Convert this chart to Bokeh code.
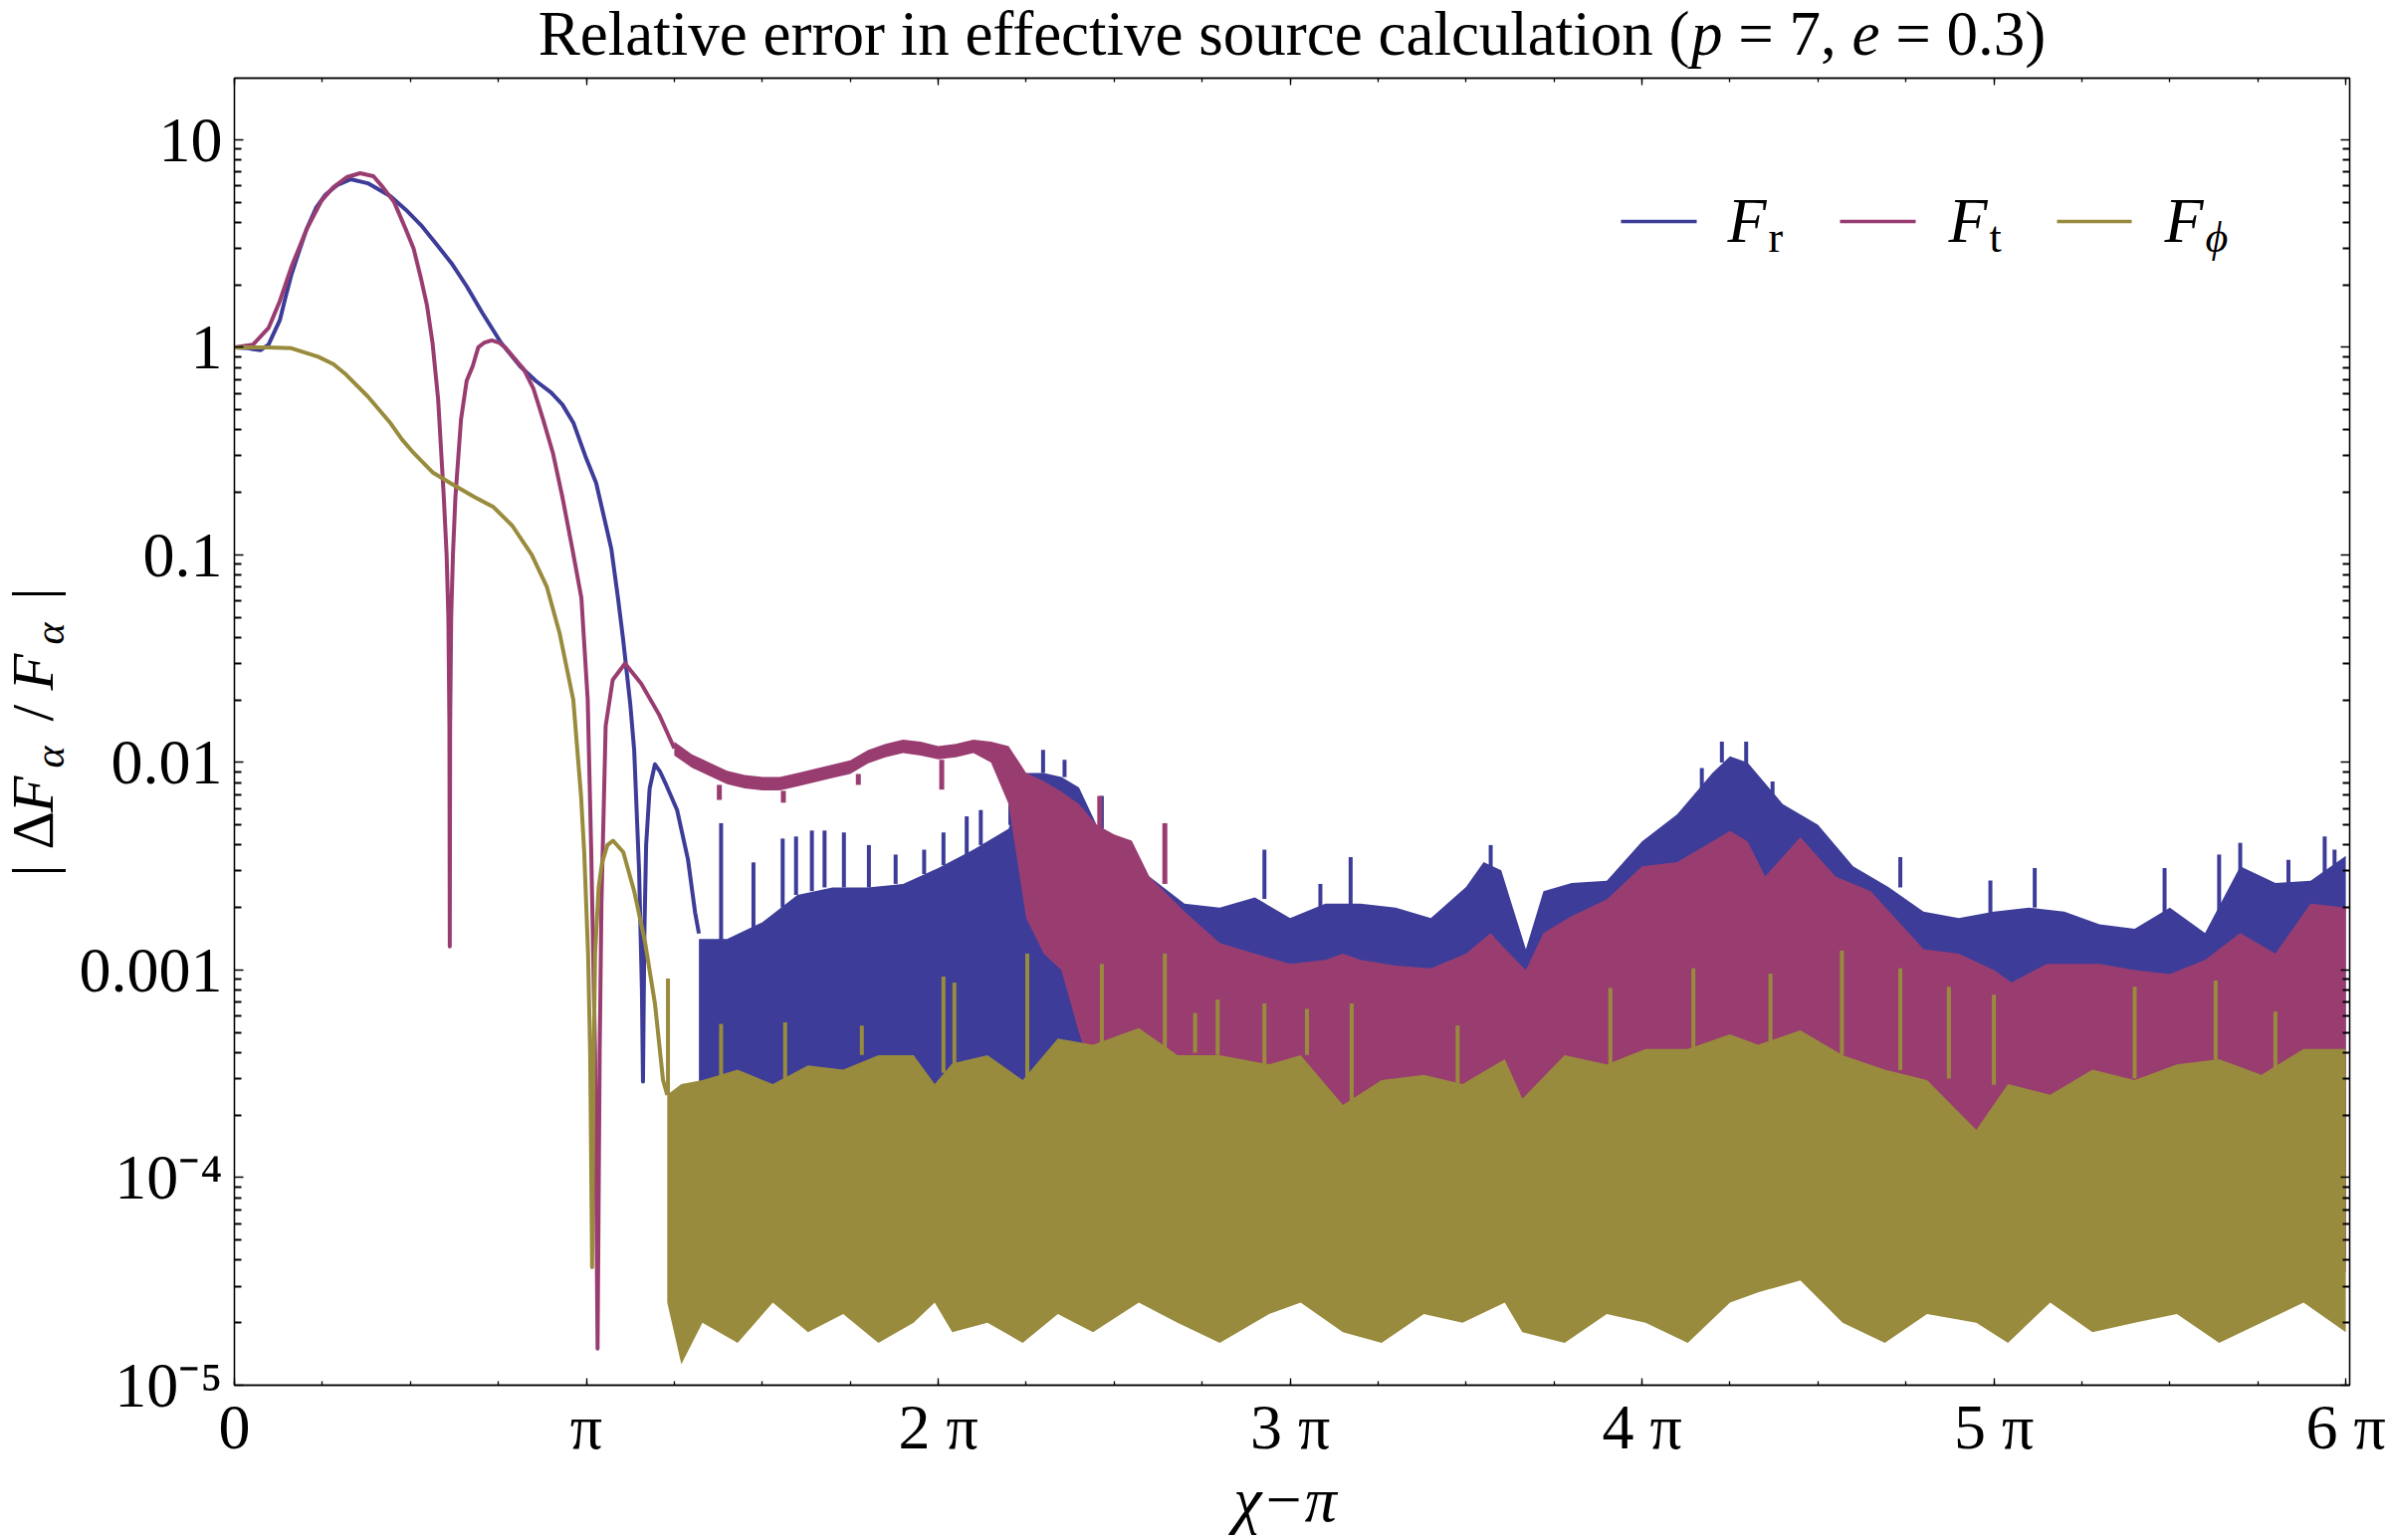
import numpy as np
from bokeh.plotting import figure
from bokeh.models import (Range1d, FixedTicker, LinearAxis, LogAxis,
                          CustomJSTickFormatter, Label, BoxAnnotation)
from bokeh.core.properties import value
from bokeh.embed import file_html
from bokeh.resources import INLINE

PI = np.pi

# ---------------- data (x in units of pi, y = |dF/F|) ----------------
# F_r : smooth part
fr_x = [0.0, 0.04, 0.053, 0.075, 0.097, 0.129, 0.145, 0.162, 0.183, 0.205, 0.232, 0.259,
        0.292, 0.33, 0.379, 0.444, 0.487, 0.53, 0.574, 0.617, 0.66, 0.704, 0.758, 0.812,
        0.856, 0.90, 0.932, 0.964, 0.997, 1.028, 1.071, 1.09, 1.104, 1.125, 1.136, 1.15,
        1.158, 1.161, 1.165, 1.17, 1.18, 1.195, 1.21, 1.227, 1.258, 1.289, 1.309, 1.32]
fr_y = [1.0, 0.99, 0.98, 0.97, 1.03, 1.35, 1.74, 2.24, 2.88, 3.7, 4.7, 5.44,
        6.05, 6.45, 6.17, 5.33, 4.6, 3.88, 3.14, 2.54, 1.97, 1.47, 1.05, 0.81,
        0.69, 0.605, 0.53, 0.43, 0.30, 0.222, 0.107, 0.062, 0.04, 0.019, 0.0115, 0.003,
        0.0008, 0.00029, 0.0015, 0.004, 0.0075, 0.0098, 0.009, 0.0078, 0.0059, 0.0034,
        0.0019, 0.0015]
# F_r : noisy part (envelope)
fr_bx = [1.32, 1.4, 1.5, 1.6, 1.7, 1.8, 1.9, 2.0, 2.1, 2.2, 2.25, 2.3, 2.35, 2.4, 2.45,
         2.5, 2.6, 2.7, 2.8, 2.9, 3.0, 3.1, 3.2, 3.3, 3.4, 3.5, 3.55, 3.6, 3.67, 3.72,
         3.8, 3.9, 4.0, 4.1, 4.2, 4.25, 4.3, 4.4, 4.5, 4.6, 4.7, 4.8, 4.9, 5.0, 5.1,
         5.2, 5.3, 5.4, 5.5, 5.6, 5.7, 5.8, 5.9, 6.0]
fr_hi = [0.00141, 0.00141, 0.0017, 0.0023, 0.0025, 0.0025, 0.0026, 0.0031, 0.0038,
         0.0048, 0.00891, 0.00891, 0.00851, 0.00759, 0.00501, 0.00355, 0.00282, 0.00209,
         0.002, 0.00224, 0.00178, 0.00209, 0.00209, 0.002, 0.00178, 0.00251, 0.00331,
         0.00302, 0.00126, 0.0024, 0.00263, 0.00269, 0.00417, 0.00562, 0.00891, 0.0107,
         0.0100, 0.00631, 0.00501, 0.00316, 0.00251, 0.00191, 0.00178, 0.00191, 0.002,
         0.00191, 0.00166, 0.00158, 0.002, 0.00151, 0.00316, 0.00263, 0.00269, 0.00355]
fr_lo = [0.00025, 0.00024, 0.00026, 0.00025, 0.00024, 0.00025, 0.00026, 0.00025, 0.00024,
         0.00025, 0.00025, 0.00025, 0.0001, 4.0e-5, 4.2e-5, 3.8e-5, 4.0e-5, 4.1e-5,
         3.9e-5, 4.0e-5, 4.2e-5, 3.8e-5, 4.0e-5, 4.1e-5, 3.9e-5, 4.0e-5, 4.2e-5, 3.8e-5,
         4.0e-5, 4.1e-5, 3.9e-5, 4.0e-5, 4.2e-5, 3.8e-5, 4.0e-5, 4.1e-5, 3.9e-5, 4.0e-5,
         4.2e-5, 3.8e-5, 4.0e-5, 4.1e-5, 3.9e-5, 4.0e-5, 4.2e-5, 3.8e-5, 4.0e-5, 4.1e-5,
         3.9e-5, 4.0e-5, 4.2e-5, 3.8e-5, 4.0e-5, 4.1e-5]
# F_r : prominent spikes above the dense band
fr_spk_x = [1.383, 1.475, 1.558, 1.596, 1.641, 1.677, 1.732, 1.803, 1.879, 1.96, 2.015,
            2.081, 2.121, 2.205, 2.298, 2.359, 2.465, 2.927, 3.086, 3.172, 3.57, 4.17,
            4.227, 4.296, 4.371, 4.734, 4.99, 5.116, 5.485, 5.64, 5.70, 5.837, 5.94, 5.968]
fr_spk_tip = [0.0051, 0.0033, 0.0043, 0.0044, 0.0047, 0.0047, 0.0046, 0.004, 0.0036, 0.0038,
              0.0046, 0.0055, 0.0059, 0.0112, 0.0115, 0.0103, 0.0069, 0.0038, 0.0026, 0.0035,
              0.004, 0.0094, 0.0126, 0.0126, 0.0081, 0.0035, 0.0027, 0.0031, 0.0031, 0.0036,
              0.0041, 0.0034, 0.0044, 0.0038]
fr_spk_base = [0.0014, 0.0016, 0.0020, 0.0023, 0.0024, 0.0025, 0.0025, 0.0025, 0.0026, 0.0029,
               0.0032, 0.0036, 0.0040, 0.0050, 0.0089, 0.0085, 0.0048, 0.0022, 0.0019, 0.002,
               0.0028, 0.0075, 0.01, 0.0098, 0.007, 0.0025, 0.0018, 0.002, 0.0019, 0.0015,
               0.0025, 0.0026, 0.0027, 0.003]

# F_t : smooth part
ft_x = [0.0, 0.053, 0.097, 0.129, 0.162, 0.205, 0.248, 0.281, 0.319, 0.357, 0.395, 0.422,
        0.454, 0.487, 0.509, 0.53, 0.547, 0.563, 0.579, 0.595, 0.603, 0.608, 0.611, 0.612,
        0.613, 0.616, 0.621, 0.628, 0.644, 0.66, 0.677, 0.693, 0.709, 0.731, 0.753, 0.769,
        0.823, 0.85, 0.877, 0.905, 0.932, 0.959, 0.986, 1.004, 1.014, 1.025, 1.032, 1.038,
        1.043, 1.055, 1.075, 1.11, 1.156, 1.207, 1.25]
ft_y = [1.0, 1.03, 1.24, 1.67, 2.44, 3.7, 5.1, 5.9, 6.6, 6.9, 6.67, 5.9,
        5.0, 3.7, 3.0, 2.15, 1.6, 1.05, 0.56, 0.19, 0.10, 0.05, 0.015, 0.0013,
        0.015, 0.05, 0.10, 0.19, 0.45, 0.69, 0.81, 1.0, 1.05, 1.08, 1.05, 1.0,
        0.78, 0.63, 0.45, 0.31, 0.19, 0.11, 0.062, 0.020, 0.0037, 0.00039, 0.000015, 0.0004,
        0.0021, 0.015, 0.025, 0.030, 0.024, 0.017, 0.0117]
# F_t : noisy part (envelope)
ft_bx = [1.25, 1.3, 1.35, 1.4, 1.45, 1.5, 1.55, 1.6, 1.65, 1.7, 1.75, 1.8, 1.85, 1.9, 1.95,
         2.0, 2.05, 2.1, 2.15, 2.2, 2.25, 2.3, 2.35, 2.4, 2.45, 2.5, 2.55, 2.6, 2.7, 2.8,
         2.9, 3.0, 3.1, 3.15, 3.2, 3.3, 3.4, 3.5, 3.57, 3.6, 3.67, 3.72, 3.8, 3.9, 4.0,
         4.1, 4.2, 4.25, 4.3, 4.35, 4.45, 4.55, 4.65, 4.8, 4.9, 5.0, 5.05, 5.15, 5.3, 5.4,
         5.5, 5.6, 5.7, 5.8, 5.9, 6.0]
ft_hi = [0.0126, 0.01096, 0.0100, 0.00912, 0.00871, 0.00851, 0.00851, 0.00891, 0.00933,
         0.00977, 0.01023, 0.01148, 0.0123, 0.01288, 0.0126, 0.0120, 0.0123, 0.01288,
         0.0126, 0.0120, 0.00891, 0.00813, 0.00724, 0.00631, 0.00501, 0.0045, 0.0042,
         0.00282, 0.00191, 0.00135, 0.0012, 0.00107, 0.00112, 0.0012, 0.00112, 0.00105,
         0.00102, 0.0012, 0.00151, 0.00132, 0.001, 0.00151, 0.00182, 0.00219, 0.00316,
         0.00331, 0.00417, 0.00468, 0.00417, 0.00282, 0.00437, 0.00282, 0.0024, 0.00126,
         0.0012, 0.001, 0.000871, 0.00107, 0.00107, 0.001, 0.000955, 0.00112, 0.00151,
         0.0012, 0.00209, 0.002]
ft_lo = [0.0108, 0.00944, 0.00861, 0.00785, 0.0075, 0.00733, 0.00733, 0.00767, 0.00804,
         0.00841, 0.00881, 0.00989, 0.0106, 0.0111, 0.0108, 0.01035, 0.0106, 0.0111,
         0.0100, 0.0063, 0.00178, 0.0012, 0.001, 0.0005, 0.00028, 3.4e-5, 3.5e-5, 3.6e-5,
         3.4e-5, 3.5e-5, 3.6e-5, 3.4e-5, 3.5e-5, 3.6e-5, 3.4e-5, 3.5e-5, 3.6e-5, 3.4e-5,
         3.5e-5, 3.6e-5, 3.4e-5, 3.5e-5, 3.6e-5, 3.4e-5, 3.5e-5, 3.6e-5, 3.4e-5, 3.5e-5,
         3.6e-5, 3.4e-5, 3.5e-5, 3.6e-5, 3.4e-5, 3.5e-5, 3.6e-5, 3.4e-5, 3.5e-5, 3.6e-5,
         3.4e-5, 3.5e-5, 3.6e-5, 3.4e-5, 3.5e-5, 3.6e-5, 3.4e-5, 3.5e-5]
# F_t : notches / spikes
ft_spk_x = [1.378, 1.56, 1.773, 2.01, 2.459, 2.644]
ft_spk_tip = [0.0066, 0.0064, 0.0078, 0.0074, 0.0069, 0.0051]
ft_spk_base = [0.0078, 0.0073, 0.0088, 0.0103, 0.0045, 0.0026]

# F_phi : smooth part
fp_x = [0.0, 0.097, 0.162, 0.238, 0.281, 0.313, 0.379, 0.444, 0.476, 0.509, 0.563, 0.617,
        0.682, 0.736, 0.79, 0.845, 0.888, 0.924, 0.963, 0.985, 0.994, 1.005, 1.011, 1.0165,
        1.021, 1.025, 1.035, 1.045, 1.06, 1.076, 1.105, 1.136, 1.167, 1.195, 1.218, 1.23]
fp_y = [1.0, 1.0, 0.99, 0.90, 0.83, 0.75, 0.58, 0.43, 0.36, 0.31, 0.25, 0.22,
        0.19, 0.17, 0.138, 0.10, 0.07, 0.042, 0.020, 0.0069, 0.0037, 0.0012, 0.00039,
        0.000037, 0.0004, 0.0012, 0.0025, 0.0033, 0.004, 0.0042, 0.0037, 0.0024, 0.00136,
        0.00069, 0.000295, 0.00025]
# F_phi : noisy part (envelope)
fp_bx = [1.23, 1.27, 1.33, 1.43, 1.53, 1.63, 1.73, 1.83, 1.93, 1.99, 2.04, 2.14, 2.24, 2.34,
         2.44, 2.57, 2.68, 2.80, 2.94, 3.03, 3.15, 3.26, 3.38, 3.49, 3.61, 3.66, 3.78, 3.90,
         4.01, 4.13, 4.25, 4.33, 4.45, 4.57, 4.69, 4.81, 4.95, 5.04, 5.16, 5.28, 5.40, 5.52,
         5.64, 5.76, 5.88, 6.0]
fp_hi = [0.000251, 0.000282, 0.000295, 0.000331, 0.000282, 0.000347, 0.000331, 0.000389,
         0.000389, 0.000282, 0.000355, 0.000389, 0.000295, 0.000468, 0.000437, 0.000525,
         0.000389, 0.000389, 0.000351, 0.000389, 0.000224, 0.000295, 0.000313, 0.000282,
         0.000372, 0.00024, 0.000389, 0.000351, 0.000417, 0.000417, 0.00049, 0.000437,
         0.000513, 0.000389, 0.000331, 0.000295, 0.00017, 0.000282, 0.000251, 0.000331,
         0.000295, 0.000351, 0.000372, 0.000313, 0.000417, 0.000417]
fp_lo = [2.5e-5, 1.26e-5, 2.0e-5, 1.6e-5, 2.5e-5, 1.8e-5, 2.2e-5, 1.6e-5, 2.0e-5, 2.5e-5,
         1.8e-5, 2.0e-5, 1.6e-5, 2.2e-5, 1.8e-5, 2.5e-5, 2.0e-5, 1.6e-5, 2.2e-5, 2.5e-5,
         1.8e-5, 1.6e-5, 2.2e-5, 2.0e-5, 2.5e-5, 1.8e-5, 1.6e-5, 2.2e-5, 2.0e-5, 1.6e-5,
         2.5e-5, 2.8e-5, 3.2e-5, 2.0e-5, 1.6e-5, 2.2e-5, 2.0e-5, 1.6e-5, 2.5e-5, 1.8e-5,
         2.0e-5, 2.2e-5, 1.6e-5, 2.0e-5, 2.5e-5, 1.8e-5]
# F_phi : prominent spikes above the dense band
fp_spk_x = [1.232, 1.383, 1.565, 1.783, 2.015, 2.046, 2.253, 2.465, 2.644, 2.73, 2.794,
            2.927, 3.048, 3.175, 3.476, 3.91, 4.146, 4.365, 4.568, 4.734, 4.872, 5.0, 5.40,
            5.63, 5.80]
fp_spk_tip = [0.00091, 0.00055, 0.00056, 0.00054, 0.00093, 0.00087, 0.0012, 0.00107, 0.0012,
              0.00062, 0.00072, 0.00069, 0.00065, 0.00069, 0.00054, 0.00082, 0.00102, 0.00096,
              0.00124, 0.00102, 0.00083, 0.00076, 0.00083, 0.00089, 0.00063]
fp_spk_base = [0.00025, 0.0003, 0.00028, 0.00039, 0.00032, 0.00035, 0.0003, 0.00044, 0.0004,
               0.0004, 0.00039, 0.00035, 0.00039, 0.00023, 0.00028, 0.00035, 0.00042, 0.00044,
               0.00039, 0.00033, 0.0003, 0.00028, 0.0003, 0.00037, 0.00031]

# tick labels
x_tick_labels = ["0", "π", "2 π", "3 π", "4 π", "5 π", "6 π"]
y_tick_values = [1e-5, 1e-4, 1e-3, 1e-2, 1e-1, 1.0, 10.0]
y_tick_labels = ["10⁻⁵", "10⁻⁴", "0.001", "0.01", "0.1", "1", "10"]

C_R = "#3D3D99"
C_T = "#993D71"
C_P = "#998B3D"

FONT = "Liberation Serif"
FS = 64
SUB = 44
BSH = 0.375   # compensation of the renderer's alphabetic-baseline offset (em)

# ---------------- figure ----------------
W, H = 2400, 1547
BL, BT, BR, BB = 235, 78, 40, 156
FW = W - BL - BR
FH = H - BT - BB
X0, X1 = 0.0, 6.011 * PI
Y0, Y1 = 1e-5, 19.8

p = figure(width=W, height=H, x_range=Range1d(X0, X1), y_range=Range1d(Y0, Y1),
           y_axis_type="log", output_backend="svg", toolbar_location=None,
           min_border_left=BL, min_border_right=BR, min_border_top=BT, min_border_bottom=BB)
p.grid.visible = False
p.outline_line_color = "black"
p.outline_line_width = 1.3
p.background_fill_color = "white"
p.border_fill_color = "white"


def px(a):
    return [v * PI for v in a]


LW = 4.0
p.line(px(fr_x), fr_y, line_color=C_R, line_width=LW, line_join="round")
p.varea(x=px(fr_bx), y1=fr_lo, y2=fr_hi, fill_color=C_R)
p.segment(x0=px(fr_spk_x), y0=fr_spk_base, x1=px(fr_spk_x), y1=fr_spk_tip,
          line_color=C_R, line_width=4)
p.line(px(ft_x), ft_y, line_color=C_T, line_width=LW, line_join="round")
p.varea(x=px(ft_bx), y1=ft_lo, y2=ft_hi, fill_color=C_T)
p.segment(x0=px(ft_spk_x), y0=ft_spk_base, x1=px(ft_spk_x), y1=ft_spk_tip,
          line_color=C_T, line_width=5)
p.line(px(fp_x), fp_y, line_color=C_P, line_width=LW, line_join="round")
p.varea(x=px(fp_bx), y1=fp_lo, y2=fp_hi, fill_color=C_P)
p.segment(x0=px(fp_spk_x), y0=fp_spk_base, x1=px(fp_spk_x), y1=fp_spk_tip,
          line_color=C_P, line_width=4)

# ---------------- axes ----------------
x_major = [k * PI for k in range(len(x_tick_labels))]
x_minor = [k * PI / 4 for k in range(4 * (len(x_tick_labels) - 1) + 1)]
y_minor = [m * v for v in y_tick_values for m in range(2, 10)]

xt = FixedTicker(ticks=x_major, minor_ticks=x_minor)
yt = FixedTicker(ticks=y_tick_values, minor_ticks=y_minor)

xfmt = CustomJSTickFormatter(args=dict(labels=x_tick_labels),
                             code="return labels[Math.round(tick / Math.PI)];")
yfmt = CustomJSTickFormatter(args=dict(labels=y_tick_labels),
                             code="return labels[Math.round(Math.log10(tick)) + 5];")
empty = CustomJSTickFormatter(code="return '';")


def style(ax, major_in, minor_in, minor_w):
    ax.axis_line_color = "black"
    ax.axis_line_width = 1.3
    ax.major_tick_in = major_in
    ax.major_tick_out = 0
    ax.minor_tick_in = minor_in
    ax.minor_tick_out = 0
    ax.major_tick_line_width = 1.3
    ax.minor_tick_line_width = minor_w
    ax.major_tick_line_color = "black"
    ax.minor_tick_line_color = "black"
    ax.major_label_text_font = FONT
    ax.major_label_text_font_size = f"{FS}px"
    ax.major_label_text_color = "black"


xa = p.xaxis[0]
xa.ticker = xt
xa.formatter = xfmt
style(xa, 7, 4, 1.3)
xa.major_label_standoff = 6

ya = p.yaxis[0]
ya.ticker = yt
ya.formatter = yfmt
style(ya, 9, 7, 2.2)
ya.major_label_standoff = 12

top = LinearAxis(ticker=xt, formatter=empty)
style(top, 7, 4, 1.3)
top.major_label_text_font_size = "0px"
top.major_label_standoff = 0
p.add_layout(top, "above")

right = LogAxis(ticker=yt, formatter=empty)
style(right, 9, 7, 2.2)
right.major_label_text_font_size = "0px"
right.major_label_standoff = 0
p.add_layout(right, "right")


# ---------------- texts ----------------
# position helpers: sx px from frame left, sy px up from frame bottom (baseline)
def dx(sx):
    return X0 + sx * (X1 - X0) / FW


def dy(sy):
    l0, l1 = np.log10(Y0), np.log10(Y1)
    return 10 ** (l0 + sy * (l1 - l0) / FH)


def txt(text, sx, sy, size=FS, italic=False, rotated=False, align="left"):
    if rotated:
        sx -= BSH * size
    else:
        sy += BSH * size
    r = p.text(x=[dx(sx)], y=[dy(sy)], text=[text], text_font=value(FONT),
               text_font_size=value(f"{size}px"),
               text_font_style=value("italic" if italic else "normal"),
               text_color="black", text_align=value(align),
               text_baseline=value("alphabetic"), angle=PI / 2 if rotated else 0.0)
    r.level = "overlay"
    return r


def lab(text, sx, sy, size=FS, italic=False):
    p.add_layout(Label(x=sx, y=sy + BSH * size, x_units="screen", y_units="screen",
                       text=text, text_font=FONT, text_font_size=f"{size}px",
                       text_font_style="italic" if italic else "normal",
                       text_color="black", text_align="left", text_baseline="alphabetic"))


NB = "\u00a0"
# title (Times metrics, 1/1000 em)
TS = 63
WREG = {' ': 250, NB: 250, 'R': 667, 'e': 444, 'l': 278, 'a': 444, 't': 278, 'i': 278,
        'v': 500, 'r': 333, 'o': 500, 'n': 500, 'f': 333, 'c': 444, 's': 389, 'u': 500,
        '(': 333, ')': 333, '=': 564, '7': 500, ',': 250, '0': 500, '.': 250, '3': 500,
        'p': 500}
title_parts = [("Relative error in effective source calculation (", False), ("p", True),
               (NB + "=" + NB + "7," + NB, False), ("e", True), (NB + "=" + NB + "0.3)", False)]
widths = [sum(WREG[c] for c in t) * TS / 1000.0 for t, _ in title_parts]
tx = FW / 2.0 - sum(widths) / 2.0
ty = FH + 21
for (t, it), w in zip(title_parts, widths):
    txt(t, tx, ty, size=TS, italic=it)
    tx += w

# x axis label
txt("χ−π", FW / 2.0 - 7, -139, italic=True, align="center")

# y axis label (rotated, reading upwards)
YS, YSUB = 60, 42
yb = -180
ys = -170
txt("|" + NB + "Δ", yb, 511, size=YS, rotated=True)
txt("F", yb, 575, size=YS, italic=True, rotated=True)
txt("α", ys, 620, size=YSUB, italic=True, rotated=True)
txt("/", yb, 667, size=YS, rotated=True)
txt("F", yb, 698, size=YS, italic=True, rotated=True)
txt("α", ys, 744, size=YSUB, italic=True, rotated=True)
txt("|", yb, 789, size=YS, rotated=True)

# legend
leg = [(1393, 1469, C_R, 1500, "r", False), (1613, 1689, C_T, 1722, "t", False),
       (1831, 1906, C_P, 1939, "ϕ", True)]
for l0, l1, col, fx, sub, sub_it in leg:
    p.add_layout(BoxAnnotation(left=l0, right=l1, bottom=1167.3, top=1170.7,
                               left_units="screen", right_units="screen",
                               bottom_units="screen", top_units="screen",
                               fill_color=col, fill_alpha=1.0, line_color=None))
    lab("F", fx, 1146.5, italic=True)
    lab(sub, fx + 41, 1137, size=SUB, italic=sub_it)

open("out.html", "w").write(file_html(p, INLINE, "plot"))
